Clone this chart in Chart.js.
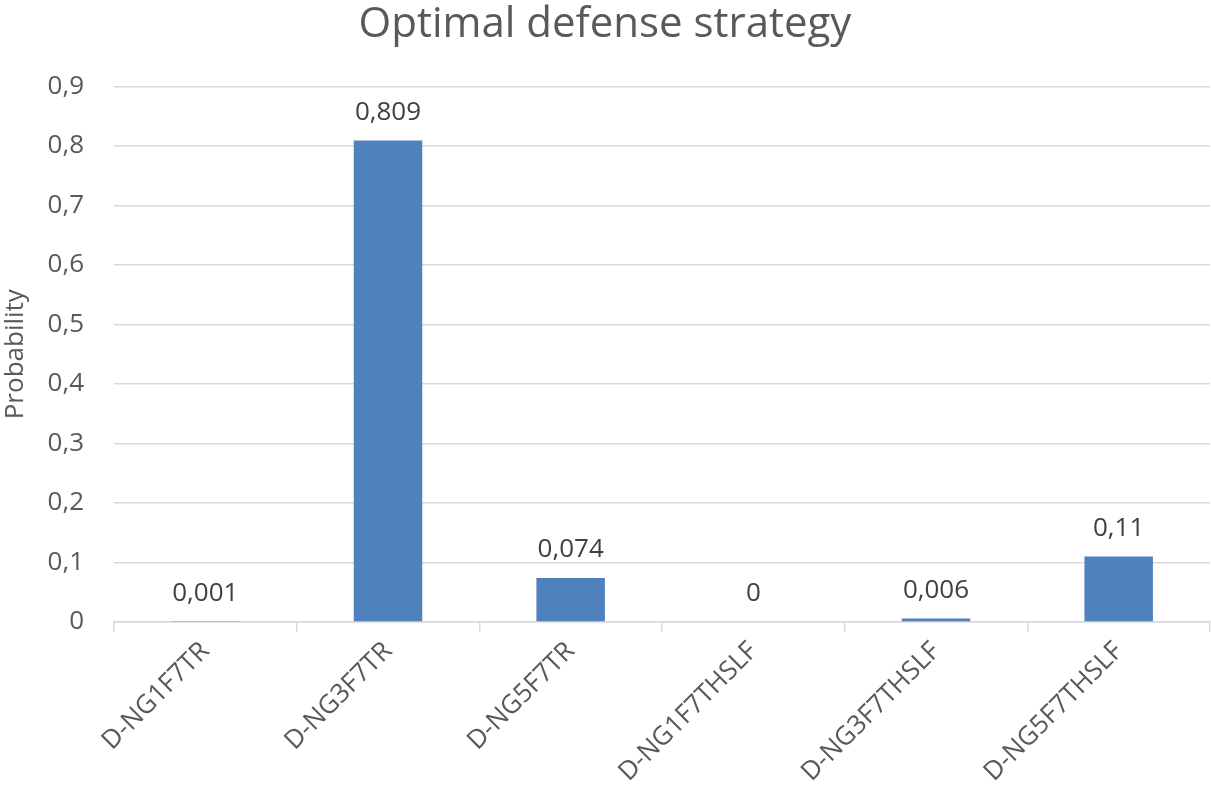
<!DOCTYPE html>
<html><head><meta charset="utf-8">
<script src="https://cdn.jsdelivr.net/npm/chart.js@4/dist/chart.umd.min.js"></script>
<style>html,body{margin:0;padding:0;background:#fff}#wrap{width:1211px;height:800px}</style>
</head><body><div id="wrap"><canvas id="c" width="1211" height="800"></canvas></div>
<script>
const categories = ["D-NG1F7TR","D-NG3F7TR","D-NG5F7TR","D-NG1F7THSLF","D-NG3F7THSLF","D-NG5F7THSLF"];
const probabilities = [0.001, 0.809, 0.074, 0, 0.006, 0.11];
const yTicks = [0,0.1,0.2,0.3,0.4,0.5,0.6,0.7,0.8,0.9];
const fmt = v => String(v).replace('.', ',');
const FONT = "'Open Sans', sans-serif";

const labelPlugin = {
  id: 'valLabels',
  afterDatasetsDraw(chart) {
    const ctx = chart.ctx;
    const meta = chart.getDatasetMeta(0);
    ctx.save();
    ctx.font = "26px " + FONT;
    ctx.fillStyle = "#404040";
    ctx.textAlign = "center";
    ctx.textBaseline = "middle";
    meta.data.forEach((bar, i) => {
      ctx.fillText(fmt(probabilities[i]), bar.x, bar.y - 28);
    });
    ctx.restore();
  }
};

new Chart(document.getElementById('c'), {
  type: 'bar',
  data: {
    labels: categories,
    datasets: [{
      data: probabilities,
      backgroundColor: '#4F81BD',
      borderWidth: 0,
      categoryPercentage: 1,
      barPercentage: 0.375
    }]
  },
  options: {
    responsive: false,
    animation: false,
    layout: { padding: { left: 0, right: 1, top: 0, bottom: 0 } },
    plugins: {
      legend: { display: false },
      tooltip: { enabled: false },
      title: {
        display: true,
        text: 'Optimal defense strategy',
        color: '#595959',
        font: { family: FONT, size: 42, weight: 'normal' },
        padding: { top: 0, bottom: 36 }
      }
    },
    scales: {
      x: {
        offset: true,
        grid: { offset: true, drawOnChartArea: false, drawTicks: true, tickLength: 10, color: '#d9d9d9', lineWidth: 1.5 },
        border: { display: true, color: '#d9d9d9', width: 1.5 },
        ticks: { color: '#595959', font: { family: FONT, size: 26 }, maxRotation: 45, minRotation: 45, padding: 4 },
        afterFit(s) { s.height = 178; }
      },
      y: {
        min: 0, max: 0.9,
        afterBuildTicks(s) { s.ticks = yTicks.map(v => ({ value: v })); },
        grid: { drawTicks: false, color: '#d9d9d9', lineWidth: 1.5 },
        border: { display: false },
        ticks: { color: '#595959', font: { family: FONT, size: 26 }, padding: 30, callback: v => fmt(Math.round(v*10)/10) },
        title: { display: true, text: 'Probability', color: '#595959', font: { family: FONT, size: 26 }, padding: 0 },
        afterFit(s) { s.width = 114; }
      }
    }
  },
  plugins: [labelPlugin]
});
</script></body></html>
